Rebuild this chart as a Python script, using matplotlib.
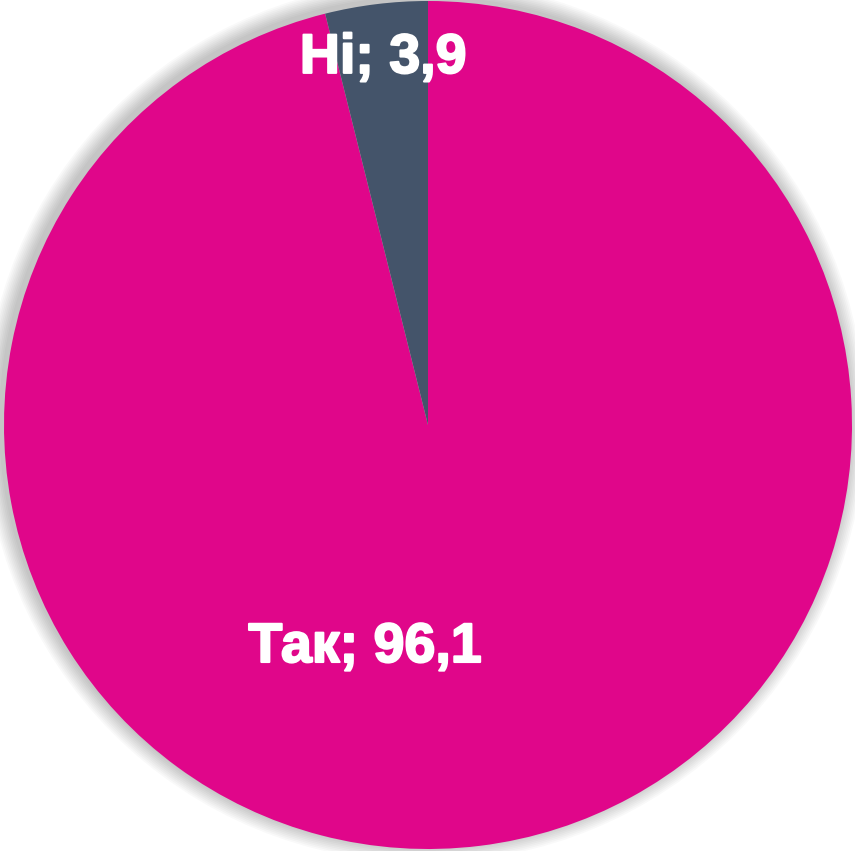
import matplotlib.pyplot as plt
import matplotlib.patheffects as pe
from matplotlib.patches import Circle
import numpy as np

# дані
labels = ['Так', 'Ні']
values = [96.1, 3.9]
colors = ['#E0068A', '#44546A']

fig = plt.figure(figsize=(8.55, 8.51), dpi=100)
ax = fig.add_axes([0, 0, 1, 1])

# легка тінь навколо круга (зсув вліво-вгору)
for i in range(10):
    ax.add_patch(Circle((-0.008, 0.008), 1.0 + 0.004 * (i + 1), color='#000000',
                        alpha=0.022, lw=0, zorder=0))

wedges, _ = ax.pie(values, colors=colors, startangle=90, counterclock=False,
                   radius=1.0, wedgeprops=dict(linewidth=0))
for w in wedges:
    w.set_zorder(2)

# підписи
mid_no = np.deg2rad(90 + values[1] / 100 * 360 / 2)
pos = {'Так': (-0.149, -0.526), 'Ні': (0.87 * np.cos(mid_no), 0.87 * np.sin(mid_no))}
for lab, val in zip(labels, values):
    x, y = pos[lab]
    ax.text(x, y, f'{lab}; {str(val).replace(".", ",")}', ha='center', va='center',
            color='white', fontsize=40, fontweight='bold', family='Liberation Sans', zorder=3,
            path_effects=[pe.withStroke(linewidth=1.5, foreground='white')])

ax.set_xlim(-428 / 424, 427 / 424)
ax.set_ylim(-426 / 424, 425 / 424)
ax.set_aspect('auto')
ax.axis('off')

fig.savefig('out.png', dpi=100, facecolor='white')
